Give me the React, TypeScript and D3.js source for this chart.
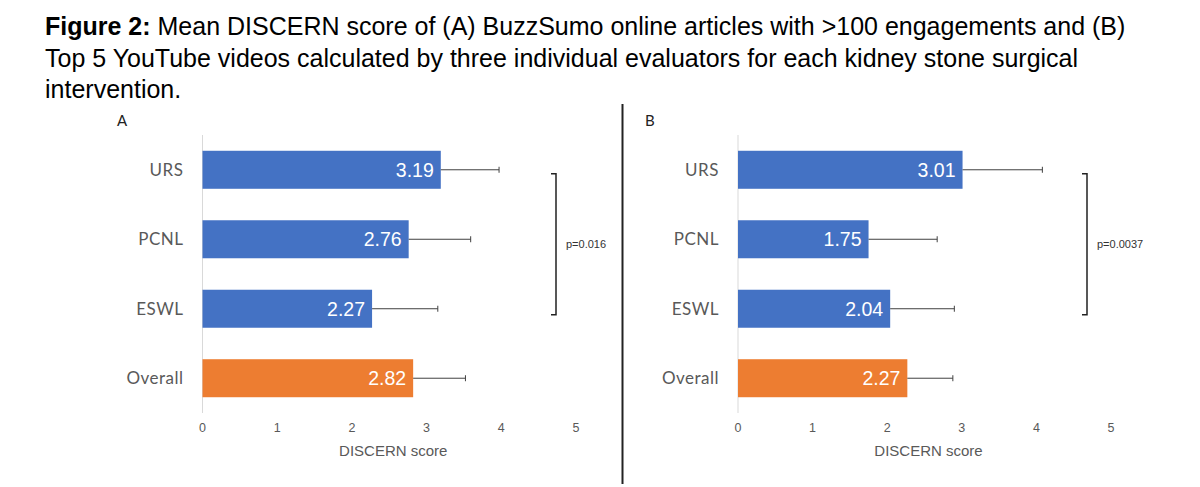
import React, { useEffect, useRef } from 'react';
import * as d3 from 'd3';

const categories = ['URS', 'PCNL', 'ESWL', 'Overall'];
const meanA = [3.19, 2.76, 2.27, 2.82];
const errA = [0.78, 0.83, 0.88, 0.7];
const meanB = [3.01, 1.75, 2.04, 2.27];
const errB = [1.07, 0.92, 0.86, 0.61];
const xTicks = [0, 1, 2, 3, 4, 5];
const pValueA = 'p=0.016';
const pValueB = 'p=0.0037';

const titleLines = [
  { bold: 'Figure 2:', rest: ' Mean DISCERN score of (A) BuzzSumo online articles with >100 engagements and (B)' },
  { bold: '', rest: 'Top 5 YouTube videos calculated by three individual evaluators for each kidney stone surgical' },
  { bold: '', rest: 'intervention.' },
];

const BLUE = '#4472C4';
const ORANGE = '#ED7D31';
const GREY = '#595959';

interface PanelCfg {
  label: string;
  means: number[];
  errs: number[];
  p: string;
  x0: number;
  x1: number;
  bracketX: number;
  labelX: number;
}

const App: React.FC = () => {
  const svgRef = useRef<SVGSVGElement>(null);

  useEffect(() => {
    if (!svgRef.current) return;
    const svg = d3.select(svgRef.current);
    svg.selectAll('*').remove();

    svg.append('rect').attr('width', 1200).attr('height', 487).attr('fill', '#fff');

    // Title
    const title = svg.append('text')
      .attr('font-family', '"Liberation Sans", Arial, sans-serif')
      .attr('font-size', 25)
      .attr('fill', '#000');
    titleLines.forEach((l, i) => {
      const t = title.append('tspan').attr('x', 45).attr('y', 35 + i * 31.5);
      if (l.bold) t.append('tspan').attr('font-weight', 'bold').text(l.bold);
      t.append('tspan').text(l.rest);
    });

    // divider
    svg.append('line')
      .attr('x1', 622.5).attr('x2', 622.5)
      .attr('y1', 104).attr('y2', 484)
      .attr('stroke', '#222').attr('stroke-width', 2);

    const y = d3.scaleBand<string>()
      .domain(categories)
      .range([135, 413])
      .paddingInner(0.453)
      .paddingOuter(0.227);

    const panels: PanelCfg[] = [
      { label: 'A', means: meanA, errs: errA, p: pValueA, x0: 202.5, x1: 576, bracketX: 556, labelX: 117 },
      { label: 'B', means: meanB, errs: errB, p: pValueB, x0: 738, x1: 1111, bracketX: 1087, labelX: 645 },
    ];

    panels.forEach(cfg => {
      const x = d3.scaleLinear().domain([0, 5]).range([cfg.x0, cfg.x1]);
      const g = svg.append('g');
      const rows = categories.map((c, i) => ({ cat: c, mean: cfg.means[i], err: cfg.errs[i] }));

      g.append('text')
        .attr('x', cfg.labelX).attr('y', 126)
        .attr('font-family', 'Lato, "Open Sans", sans-serif')
        .attr('font-size', 15)
        .attr('fill', '#222')
        .text(cfg.label);

      // zero line
      g.append('line')
        .attr('x1', x(0)).attr('x2', x(0))
        .attr('y1', 135).attr('y2', 413)
        .attr('stroke', '#d9d9d9').attr('stroke-width', 1);

      g.selectAll('rect.bar')
        .data(rows)
        .join('rect')
        .attr('class', 'bar')
        .attr('x', x(0))
        .attr('y', d => y(d.cat)!)
        .attr('width', d => x(d.mean) - x(0))
        .attr('height', y.bandwidth())
        .attr('fill', d => (d.cat === 'Overall' ? ORANGE : BLUE));

      const cy = (d: { cat: string }) => y(d.cat)! + y.bandwidth() / 2;

      // error bars
      g.selectAll('line.err')
        .data(rows)
        .join('line')
        .attr('class', 'err')
        .attr('x1', d => x(d.mean)).attr('x2', d => x(d.mean + d.err))
        .attr('y1', cy).attr('y2', cy)
        .attr('stroke', '#404040').attr('stroke-width', 1);
      g.selectAll('line.cap')
        .data(rows)
        .join('line')
        .attr('class', 'cap')
        .attr('x1', d => x(d.mean + d.err)).attr('x2', d => x(d.mean + d.err))
        .attr('y1', d => cy(d) - 3).attr('y2', d => cy(d) + 3)
        .attr('stroke', '#404040').attr('stroke-width', 1);

      // value labels
      g.selectAll('text.val')
        .data(rows)
        .join('text')
        .attr('class', 'val')
        .attr('x', d => x(d.mean) - 7)
        .attr('y', cy)
        .attr('dy', '0.36em')
        .attr('text-anchor', 'end')
        .attr('font-family', '"Liberation Sans", Arial, sans-serif')
        .attr('font-size', 19.5)
        .attr('fill', '#fff')
        .text(d => d.mean.toFixed(2));

      // category labels
      g.selectAll('text.cat')
        .data(rows)
        .join('text')
        .attr('class', 'cat')
        .attr('x', x(0) - 19)
        .attr('y', cy)
        .attr('dy', '0.36em')
        .attr('text-anchor', 'end')
        .attr('font-family', 'Lato, "Open Sans", sans-serif')
        .attr('font-size', 17)
        .attr('letter-spacing', 0.5)
        .attr('fill', GREY)
        .text(d => d.cat);

      // x ticks
      g.selectAll('text.tick')
        .data(xTicks)
        .join('text')
        .attr('class', 'tick')
        .attr('x', d => x(d))
        .attr('y', 432)
        .attr('text-anchor', 'middle')
        .attr('font-family', '"Liberation Sans", Arial, sans-serif')
        .attr('font-size', 12.5)
        .attr('fill', GREY)
        .text(d => String(d));

      g.append('text')
        .attr('x', (cfg.x0 + cfg.x1) / 2 + 4)
        .attr('y', 456)
        .attr('text-anchor', 'middle')
        .attr('font-family', '"Liberation Sans", Arial, sans-serif')
        .attr('font-size', 15)
        .attr('fill', GREY)
        .text('DISCERN score');

      // significance bracket
      const top = cy(rows[0]) + 4;
      const bot = cy(rows[2]) + 6;
      g.append('path')
        .attr('d', `M${cfg.bracketX - 5},${top}H${cfg.bracketX}V${bot}H${cfg.bracketX - 5}`)
        .attr('fill', 'none')
        .attr('stroke', '#222')
        .attr('stroke-width', 1.5);
      g.append('text')
        .attr('x', cfg.bracketX + 10)
        .attr('y', (top + bot) / 2)
        .attr('dy', '0.35em')
        .attr('font-family', '"Liberation Sans", Arial, sans-serif')
        .attr('font-size', 11)
        .attr('fill', '#333')
        .text(cfg.p);
    });
  }, []);

  return (
    <svg
      ref={svgRef}
      width={1200}
      height={487}
      style={{ position: 'absolute', left: 0, top: 0 }}
    />
  );
};

export default App;
